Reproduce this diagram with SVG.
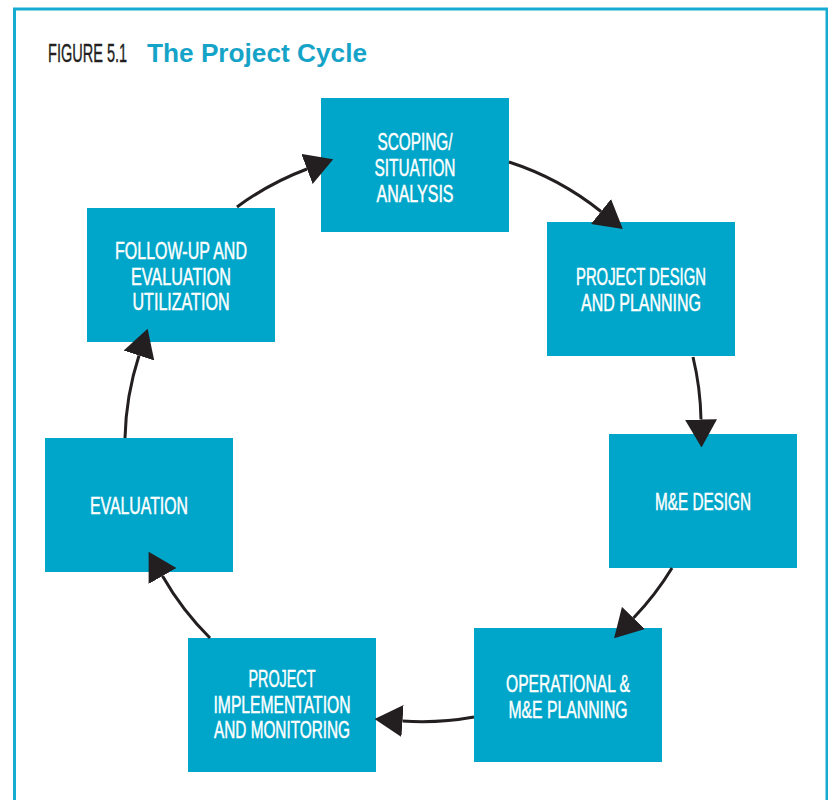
<svg xmlns="http://www.w3.org/2000/svg" width="828" height="800" viewBox="0 0 828 800">
<defs>
<style>
.box{fill:#00a6c9}
.lbl{font-family:"Liberation Sans",Arial,sans-serif;font-size:24.5px;fill:#ffffff;stroke:#ffffff;stroke-width:0.5;text-anchor:middle}
.con{fill:none;stroke:#231f20;stroke-width:3}
.frame{fill:none;stroke:#16abd0;stroke-width:3}
</style>
<marker id="ah" viewBox="0 -16 28 32" markerWidth="28" markerHeight="32" refX="0" refY="0" orient="auto" markerUnits="userSpaceOnUse">
<path d="M0,-16 L28,0 L0,16 z" fill="#231f20"/>
</marker>
</defs>
<rect width="828" height="800" fill="#ffffff"/>
<path class="frame" d="M14.5,802 V9 H827 V802"/>
<g id="title">
<text transform="translate(48,61.5) scale(0.57,1)" x="0" y="0" font-family="Liberation Sans,Arial,sans-serif" font-size="25.5" fill="#231f20" stroke="#231f20" stroke-width="0.4">FIGURE 5.1</text>
<text x="147" y="61.5" font-family="Liberation Sans,Arial,sans-serif" font-size="25" font-weight="bold" fill="#16a3c8" textLength="220" lengthAdjust="spacingAndGlyphs">The Project Cycle</text>
</g>
<g id="node-scoping">
<rect class="box" x="321" y="98" width="188" height="134"/>
<text class="lbl" x="415" y="150" textLength="75" lengthAdjust="spacingAndGlyphs">SCOPING/</text>
<text class="lbl" x="415" y="176" textLength="81" lengthAdjust="spacingAndGlyphs">SITUATION</text>
<text class="lbl" x="415" y="201.5" textLength="77" lengthAdjust="spacingAndGlyphs">ANALYSIS</text>
</g>
<g id="node-design">
<rect class="box" x="547" y="222" width="188" height="134"/>
<text class="lbl" x="641" y="285" textLength="130" lengthAdjust="spacingAndGlyphs">PROJECT DESIGN</text>
<text class="lbl" x="641" y="311" textLength="120" lengthAdjust="spacingAndGlyphs">AND PLANNING</text>
</g>
<g id="node-me-design">
<rect class="box" x="609" y="434" width="188" height="134"/>
<text class="lbl" x="703" y="509.5" textLength="96" lengthAdjust="spacingAndGlyphs">M&amp;E DESIGN</text>
</g>
<g id="node-operational">
<rect class="box" x="474" y="628" width="188" height="134"/>
<text class="lbl" x="568" y="691.5" textLength="124" lengthAdjust="spacingAndGlyphs">OPERATIONAL &amp;</text>
<text class="lbl" x="568" y="717.5" textLength="119" lengthAdjust="spacingAndGlyphs">M&amp;E PLANNING</text>
</g>
<g id="node-implementation">
<rect class="box" x="188" y="638" width="188" height="134"/>
<text class="lbl" x="282" y="687" textLength="67" lengthAdjust="spacingAndGlyphs">PROJECT</text>
<text class="lbl" x="282" y="712.5" textLength="137" lengthAdjust="spacingAndGlyphs">IMPLEMENTATION</text>
<text class="lbl" x="282" y="738" textLength="136" lengthAdjust="spacingAndGlyphs">AND MONITORING</text>
</g>
<g id="node-evaluation">
<rect class="box" x="45" y="438" width="188" height="134"/>
<text class="lbl" x="139" y="513.5" textLength="98" lengthAdjust="spacingAndGlyphs">EVALUATION</text>
</g>
<g id="node-followup">
<rect class="box" x="87" y="208" width="188" height="134"/>
<text class="lbl" x="181" y="258.5" textLength="132" lengthAdjust="spacingAndGlyphs">FOLLOW-UP AND</text>
<text class="lbl" x="181" y="284.5" textLength="100" lengthAdjust="spacingAndGlyphs">EVALUATION</text>
<text class="lbl" x="181" y="310" textLength="97" lengthAdjust="spacingAndGlyphs">UTILIZATION</text>
</g>
<g id="connectors">
<path class="con" marker-end="url(#ah)" d="M237,207 A289,289 0 0 1 307,169"/>
<path class="con" marker-end="url(#ah)" d="M509,162 A289,289 0 0 1 601,211.5"/>
<path class="con" marker-end="url(#ah)" d="M693,357 A289,289 0 0 1 701,419.5"/>
<path class="con" marker-end="url(#ah)" d="M672,568 A289,289 0 0 1 633.5,618"/>
<path class="con" marker-end="url(#ah)" d="M474,717 A289,289 0 0 1 402.5,721"/>
<path class="con" marker-end="url(#ah)" d="M210,638 A289,289 0 0 1 162.5,576"/>
<path class="con" marker-end="url(#ah)" d="M125,438 A289,289 0 0 1 139,355.5"/>
</g>
</svg>
